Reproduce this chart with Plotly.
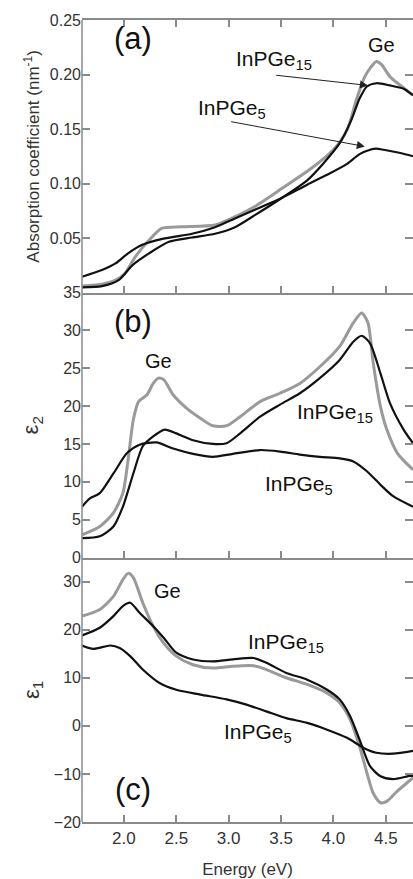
import plotly.graph_objects as go

# ---------------- data ----------------
# Panel (a): absorption coefficient (nm^-1)
ge_a_E = [1.60, 1.80, 1.92, 2.01, 2.11, 2.24, 2.36, 2.55, 2.87, 3.06, 3.25, 3.51, 3.79, 4.00, 4.13, 4.22, 4.30, 4.36, 4.41, 4.46, 4.54, 4.64, 4.76]
ge_a_v = [0.006, 0.008, 0.0115, 0.0176, 0.033, 0.048, 0.059, 0.0604, 0.062, 0.0695, 0.079, 0.0956, 0.114, 0.131, 0.149, 0.177, 0.198, 0.207, 0.212, 0.209, 0.198, 0.190, 0.181]

g15_a_E = [1.60, 1.79, 1.95, 2.08, 2.24, 2.43, 2.65, 2.87, 3.06, 3.25, 3.51, 3.75, 3.90, 4.06, 4.17, 4.25, 4.32, 4.41, 4.54, 4.67, 4.76]
g15_a_v = [0.0048, 0.006, 0.0115, 0.025, 0.036, 0.0466, 0.0505, 0.054, 0.060, 0.071, 0.087, 0.103, 0.118, 0.137, 0.158, 0.178, 0.189, 0.192, 0.190, 0.187, 0.181]

g5_a_E = [1.60, 1.79, 1.92, 2.04, 2.17, 2.39, 2.65, 2.87, 3.06, 3.25, 3.51, 3.75, 3.94, 4.13, 4.25, 4.35, 4.41, 4.48, 4.64, 4.76]
g5_a_v = [0.0145, 0.0207, 0.0268, 0.036, 0.0436, 0.0497, 0.054, 0.060, 0.068, 0.076, 0.087, 0.099, 0.108, 0.118, 0.127, 0.131, 0.132, 0.131, 0.128, 0.125]

# Panel (b): epsilon_2
ge_b_E = [1.60, 1.77, 1.90, 1.99, 2.04, 2.09, 2.14, 2.22, 2.28, 2.33, 2.38, 2.47, 2.60, 2.73, 2.85, 2.98, 3.11, 3.30, 3.49, 3.68, 3.87, 4.06, 4.19, 4.27, 4.33, 4.38, 4.45, 4.51, 4.61, 4.76]
ge_b_v = [3.0, 4.1, 5.9, 8.5, 12.9, 18.2, 20.6, 21.5, 23.0, 23.7, 23.5, 21.5, 19.7, 18.4, 17.4, 17.4, 18.6, 20.6, 21.7, 23.0, 25.2, 27.9, 31.0, 32.3, 31.0, 25.7, 19.9, 16.9, 13.8, 11.6]

g15_b_E = [1.60, 1.77, 1.90, 1.99, 2.09, 2.18, 2.28, 2.39, 2.50, 2.66, 2.85, 2.98, 3.11, 3.30, 3.49, 3.68, 3.87, 4.06, 4.19, 4.27, 4.35, 4.45, 4.54, 4.67, 4.76]
g15_b_v = [2.55, 2.8, 4.1, 6.7, 11.1, 14.7, 16.0, 16.9, 16.4, 15.5, 15.0, 15.1, 16.4, 18.6, 20.2, 21.7, 23.7, 26.1, 28.5, 29.3, 28.3, 24.3, 20.4, 16.9, 15.1]

g5_b_E = [1.60, 1.675, 1.77, 1.90, 2.03, 2.15, 2.31, 2.47, 2.66, 2.85, 3.04, 3.30, 3.49, 3.68, 3.87, 4.06, 4.19, 4.32, 4.45, 4.57, 4.76]
g5_b_v = [6.7, 7.8, 8.5, 11.1, 13.8, 14.9, 15.2, 14.4, 13.7, 13.3, 13.7, 14.2, 14.0, 13.6, 13.3, 13.1, 12.7, 11.4, 9.6, 8.1, 6.7]

# Panel (c): epsilon_1
ge_c_E = [1.60, 1.77, 1.90, 1.99, 2.04, 2.09, 2.18, 2.28, 2.38, 2.50, 2.66, 2.85, 3.04, 3.24, 3.36, 3.55, 3.75, 3.94, 4.06, 4.16, 4.25, 4.32, 4.38, 4.45, 4.51, 4.61, 4.76]
ge_c_v = [22.8, 24.2, 26.9, 30.4, 31.7, 30.8, 25.6, 20.7, 17.2, 14.5, 12.7, 12.0, 12.4, 12.5, 11.7, 10.0, 8.6, 6.8, 4.8, 1.3, -4.3, -9.8, -14.0, -16.0, -15.7, -13.6, -10.8]

g15_c_E = [1.60, 1.77, 1.90, 1.99, 2.06, 2.15, 2.28, 2.38, 2.50, 2.66, 2.85, 3.04, 3.24, 3.36, 3.55, 3.75, 3.94, 4.06, 4.16, 4.25, 4.35, 4.45, 4.57, 4.73, 4.76]
g15_c_v = [18.8, 20.4, 22.8, 24.9, 25.6, 23.5, 20.7, 18.3, 15.2, 13.8, 13.4, 13.8, 14.1, 13.1, 11.0, 9.6, 7.5, 5.5, 2.0, -2.9, -8.4, -10.5, -11.1, -10.4, -10.4]

g5_c_E = [1.60, 1.71, 1.87, 1.96, 2.06, 2.18, 2.34, 2.50, 2.73, 2.98, 3.17, 3.36, 3.55, 3.75, 3.94, 4.13, 4.29, 4.41, 4.57, 4.76]
g5_c_v = [16.7, 16.0, 16.7, 16.2, 14.5, 11.7, 8.9, 7.5, 6.5, 5.5, 4.4, 3.0, 1.6, 0.6, -0.8, -2.5, -4.6, -5.6, -5.8, -5.2]

x_ticks = [2.0, 2.5, 3.0, 3.5, 4.0, 4.5]
x_ticktext = ["2.0", "2.5", "3.0", "3.5", "4.0", "4.5"]
a_ticks = [0.05, 0.10, 0.15, 0.20, 0.25]
a_ticktext = ["0.05", "0.10", "0.15", "0.20", "0.25"]
b_ticks = [0, 5, 10, 15, 20, 25, 30, 35]
c_ticks = [-20, -10, 0, 10, 20, 30]

# ---------------- styling ----------------
FONT = "Liberation Sans, Arial, sans-serif"
GREY = "#9a9a9a"
BLACK = "#111111"
AXC = "#8a8a8a"

fig = go.Figure()

def add(E, v, xa, ya, color, width):
    fig.add_trace(go.Scatter(x=E, y=v, xaxis=xa, yaxis=ya, mode="lines",
                             line=dict(color=color, width=width, shape="spline", smoothing=0.7),
                             showlegend=False, hoverinfo="skip"))

# panel a -> x3/y3, panel b -> x2/y2, panel c -> x/y
add(ge_a_E, ge_a_v, "x3", "y3", GREY, 3)
add(g15_a_E, g15_a_v, "x3", "y3", BLACK, 2.2)
add(g5_a_E, g5_a_v, "x3", "y3", BLACK, 2.2)
add(ge_b_E, ge_b_v, "x2", "y2", GREY, 3)
add(g15_b_E, g15_b_v, "x2", "y2", BLACK, 2.2)
add(g5_b_E, g5_b_v, "x2", "y2", BLACK, 2.2)
add(ge_c_E, ge_c_v, "x", "y", GREY, 3)
add(g15_c_E, g15_c_v, "x", "y", BLACK, 2.2)
add(g5_c_E, g5_c_v, "x", "y", BLACK, 2.2)

d_c = [0.0, 0.3298]
d_b = [0.3298, 0.6601]
d_a = [0.6601, 1.0]

common_x = dict(showline=True, linecolor=AXC, linewidth=1.5, ticks="inside", ticklen=7,
                tickcolor=AXC, tickwidth=1.5, showgrid=False, zeroline=False,
                tickfont=dict(family=FONT, size=17, color="#333"))
common_y = dict(showline=False, ticks="inside", ticklen=8,
                tickcolor=AXC, tickwidth=1.5, showgrid=False, zeroline=False, mirror="ticks",
                tickfont=dict(family=FONT, size=16, color="#333"))

xr = [1.6, 4.76]
fig.update_layout(
    xaxis=dict(**common_x, domain=[0, 1], anchor="y", range=xr, tickvals=x_ticks, ticktext=x_ticktext,
               title=dict(text="Energy (eV)", font=dict(family=FONT, size=17, color="#333"), standoff=16)),
    xaxis2=dict(**common_x, domain=[0, 1], anchor="y2", range=xr, tickvals=x_ticks, showticklabels=False),
    xaxis3=dict(**common_x, domain=[0, 1], anchor="y3", range=xr, tickvals=x_ticks, showticklabels=False,
                mirror="ticks"),
    yaxis=dict(**common_y, domain=d_c, anchor="x", range=[-20, 35], tickvals=c_ticks),
    yaxis2=dict(**common_y, domain=d_b, anchor="x2", range=[0, 35], tickvals=b_ticks),
    yaxis3=dict(**common_y, domain=d_a, anchor="x3", range=[0, 0.25], tickvals=a_ticks, ticktext=a_ticktext),
)

# left frame line (the right edge of the frame falls outside the picture)
fig.add_shape(type="line", xref="paper", yref="paper", x0=0, x1=0, y0=0, y1=1,
              line=dict(color=AXC, width=1.5), layer="above")

anns = []
def txt(text, x, y, xr_, yr_, size):
    anns.append(dict(text=text, x=x, y=y, xref=xr_, yref=yr_, showarrow=False,
                     font=dict(family=FONT, size=size, color="#111"), xanchor="center", yanchor="middle"))

# panel a labels
txt("(a)", 2.09, 0.233, "x3", "y3", 31)
txt("Ge", 4.46, 0.227, "x3", "y3", 20)
txt("InPGe<sub>15</sub>", 3.43, 0.213, "x3", "y3", 21)
txt("InPGe<sub>5</sub>", 3.03, 0.168, "x3", "y3", 21)
# panel b labels
txt("(b)", 2.09, 31.2, "x2", "y2", 31)
txt("Ge", 2.33, 25.9, "x2", "y2", 20)
txt("InPGe<sub>15</sub>", 4.02, 19.1, "x2", "y2", 21)
txt("InPGe<sub>5</sub>", 3.67, 9.6, "x2", "y2", 21)
# panel c labels
txt("Ge", 2.42, 28.0, "x", "y", 20)
txt("InPGe<sub>15</sub>", 3.55, 17.2, "x", "y", 21)
txt("InPGe<sub>5</sub>", 3.28, -1.5, "x", "y", 21)
txt("(c)", 2.09, -13.2, "x", "y", 31)

# arrows in panel a
for (tx, ty, hx, hy) in [(3.44, 0.1995, 4.33, 0.190), (3.01, 0.157, 4.30, 0.134)]:
    anns.append(dict(x=hx, y=hy, ax=tx, ay=ty, xref="x3", yref="y3", axref="x3", ayref="y3",
                     showarrow=True, arrowhead=2, arrowsize=1.6, arrowwidth=1, arrowcolor="#222", text=""))

# y-axis titles
ytitle_font = dict(family=FONT, size=17, color="#333")
anns.append(dict(text="Absorption coefficient (nm<sup>-1</sup>)", x=-0.15, y=(d_a[0] + d_a[1]) / 2,
                 xref="paper", yref="paper", textangle=-90, showarrow=False, font=ytitle_font,
                 xanchor="center", yanchor="middle"))
anns.append(dict(text="ε<sub>2</sub>", x=-0.15, y=(d_b[0] + d_b[1]) / 2, xref="paper", yref="paper",
                 textangle=-90, showarrow=False, font=dict(family=FONT, size=22, color="#333"),
                 xanchor="center", yanchor="middle"))
anns.append(dict(text="ε<sub>1</sub>", x=-0.15, y=(d_c[0] + d_c[1]) / 2, xref="paper", yref="paper",
                 textangle=-90, showarrow=False, font=dict(family=FONT, size=22, color="#333"),
                 xanchor="center", yanchor="middle"))

fig.update_layout(
    annotations=anns,
    width=413, height=879,
    margin=dict(l=82, r=0, t=20, b=57),
    paper_bgcolor="white", plot_bgcolor="white",
    font=dict(family=FONT),
)

fig.write_html("out.html")
